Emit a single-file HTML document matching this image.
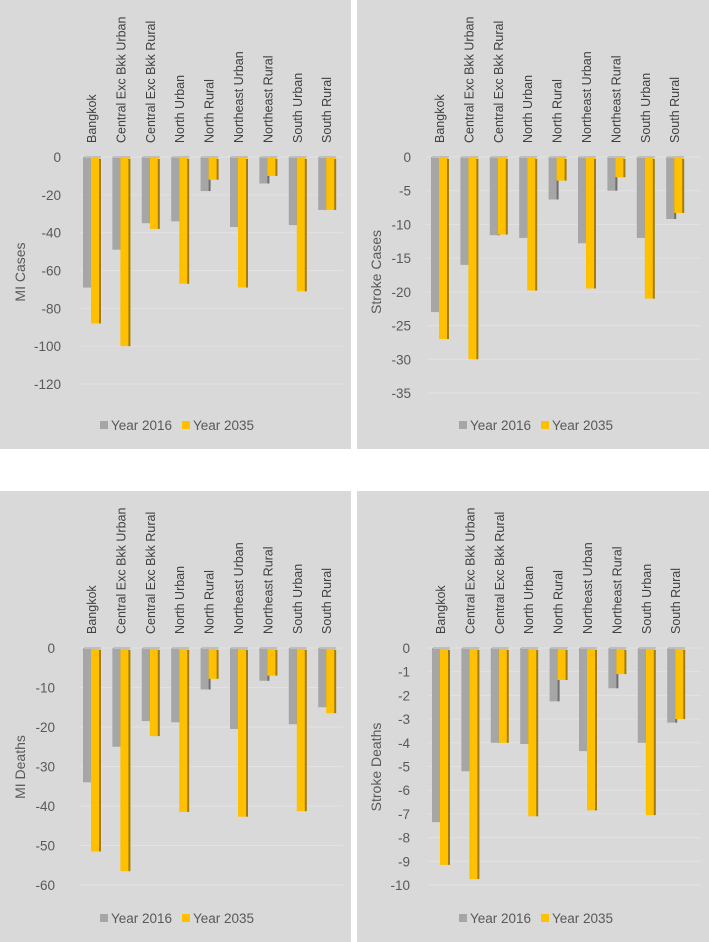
<!DOCTYPE html>
<html><head><meta charset="utf-8">
<style>
body{margin:0;background:#fff;width:709px;height:942px;overflow:hidden;font-family:"Liberation Sans",sans-serif;}
svg{position:absolute;left:0;top:0}
</style></head>
<body>
<svg id="c" width="709" height="942"></svg>
<script>
const categories=["Bangkok","Central Exc Bkk Urban","Central Exc Bkk Rural","North Urban","North Rural","Northeast Urban","Northeast Rural","South Urban","South Rural"];
const miCases2016=[-69,-49,-35,-34,-18,-37,-14,-36,-28];
const miCases2035=[-88,-100,-38,-67,-12,-69,-10,-71,-28];
const strokeCases2016=[-23,-16,-11.6,-12,-6.3,-12.8,-5,-12,-9.2];
const strokeCases2035=[-27,-30,-11.5,-19.8,-3.5,-19.5,-3,-21,-8.3];
const miDeaths2016=[-34,-25,-18.5,-18.8,-10.5,-20.5,-8.3,-19.3,-15];
const miDeaths2035=[-51.5,-56.5,-22.3,-41.5,-7.8,-42.7,-7,-41.3,-16.5];
const strokeDeaths2016=[-7.35,-5.2,-4,-4.05,-2.25,-4.35,-1.7,-4,-3.15];
const strokeDeaths2035=[-9.15,-9.75,-4,-7.1,-1.35,-6.85,-1.1,-7.05,-3];
const miCasesTicks=[0,-20,-40,-60,-80,-100,-120];
const strokeCasesTicks=[0,-5,-10,-15,-20,-25,-30,-35];
const miDeathsTicks=[0,-10,-20,-30,-40,-50,-60];
const strokeDeathsTicks=[0,-1,-2,-3,-4,-5,-6,-7,-8,-9,-10];
const legendLabels=["Year 2016","Year 2035"];
const NS="http://www.w3.org/2000/svg";
const svg=document.getElementById('c');
function el(tag,attrs,parent){const e=document.createElementNS(NS,tag);for(const k in attrs)e.setAttribute(k,attrs[k]);(parent||svg).appendChild(e);return e;}
function panel(cfg){
  const g=el('g',{});
  
  
  const bg=el('rect',{x:cfg.px,y:cfg.py,width:cfg.pw,height:cfg.ph,fill:'#d9d9d9'},g);
  
  
  const minT=cfg.ticks[cfg.ticks.length-1];
  const yScale=v=>cfg.y0+(v/minT)*(cfg.yMin-cfg.y0);
  const xScale=i=>cfg.x0+i*cfg.step;
  cfg.ticks.forEach(t=>{
    const y=yScale(t);
    const gl=el('line',{x1:cfg.x0-4,x2:cfg.px+cfg.pw-8,y1:y,y2:y,stroke:'#e2e2e2','stroke-width':1},g);
    
    
    const tl=el('text',{x:cfg.labelX,y:y+5,'text-anchor':'end','font-size':13.5,fill:'#595959'},g);
    tl.textContent=t;
    
    
  });
  const at=el('text',{transform:`translate(${cfg.titleX},${cfg.titleY}) rotate(-90)`,'text-anchor':'middle','font-size':14,fill:'#595959'},g);
  at.textContent=cfg.title;
  
  
  categories.forEach((c,i)=>{
    const x=xScale(i);
    const cl=el('text',{transform:`translate(${x+13},${cfg.y0-14}) rotate(-90)`,'font-size':12.5,fill:'#404040'},g);
    cl.textContent=c;
    
    
    const y1=yScale(cfg.s1[i]);
    const b1=el('rect',{x:x,y:cfg.y0,width:9,height:y1-cfg.y0,fill:'#a6a6a6'},g);
    
    
    const b1s=el('rect',{x:x+8,y:cfg.y0+2,width:2,height:Math.max(0,y1-cfg.y0-2),fill:'#6f6f6f'},g);
    
    
    const y2=yScale(cfg.s2[i]);
    const b2=el('rect',{x:x+8,y:cfg.y0,width:9,height:y2-cfg.y0,fill:'#ffc000'},g);
    
    
    const b2s=el('rect',{x:x+16,y:cfg.y0+2,width:2,height:Math.max(0,y2-cfg.y0-2),fill:'#a67c00'},g);
    
    
    const top=el('rect',{x:x+1,y:cfg.y0-1,width:17,height:2,fill:'#bfbfbf'},g);
    
    
  });
  const lg=el('g',{},g);
  
  
  const cols=['#a6a6a6','#ffc000'];
  legendLabels.forEach((l,k)=>{
    const lx=cfg.legX+k*82;
    const sw=el('rect',{x:lx,y:cfg.legY-9,width:8,height:8,fill:cols[k]},lg);
    
    
    const lt=el('text',{x:lx+11,y:cfg.legY,'font-size':13.5,fill:'#595959'},lg);
    lt.textContent=l;
    
    
  });
}
panel({name:'mi-cases-chart',px:0,py:0,pw:351,ph:449,x0:83,step:29.4,y0:157,yMin:384,ticks:miCasesTicks,labelX:61,titleX:25,titleY:272,title:'MI Cases',s1:miCases2016,s2:miCases2035,legX:100,legY:430});
panel({name:'stroke-cases-chart',px:357,py:0,pw:352,ph:449,x0:431,step:29.4,y0:157,yMin:393,ticks:strokeCasesTicks,labelX:411,titleX:381,titleY:272,title:'Stroke Cases',s1:strokeCases2016,s2:strokeCases2035,legX:459,legY:430});
panel({name:'mi-deaths-chart',px:0,py:491,pw:351,ph:451,x0:83,step:29.4,y0:648,yMin:885,ticks:miDeathsTicks,labelX:55,titleX:25,titleY:767,title:'MI Deaths',s1:miDeaths2016,s2:miDeaths2035,legX:100,legY:923});
panel({name:'stroke-deaths-chart',px:357,py:491,pw:352,ph:451,x0:432,step:29.4,y0:648,yMin:885,ticks:strokeDeathsTicks,labelX:410,titleX:381,titleY:767,title:'Stroke Deaths',s1:strokeDeaths2016,s2:strokeDeaths2035,legX:459,legY:923});
</script>
</body></html>
